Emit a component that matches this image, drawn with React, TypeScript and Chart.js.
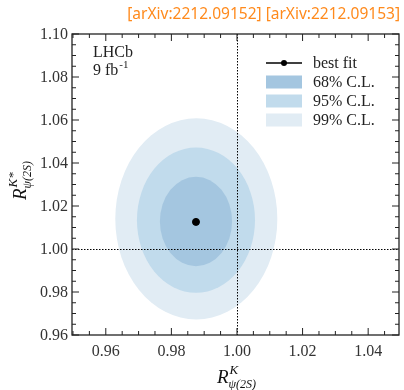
import React, { useEffect, useRef } from "react";
import { Chart, registerables } from "chart.js";
Chart.register(...registerables);

// ---- data ----
const bestFitX = [0.9875];
const bestFitY = [1.0126];
const clLabels = ["99% C.L.", "95% C.L.", "68% C.L."];
const clColors = ["#e1ecf4", "#c1dbec", "#a4c6e0"];
const clCenterX = [0.9876, 0.9875, 0.9875];
const clCenterY = [1.014, 1.0134, 1.0128];
const clHalfX = [0.0247, 0.018, 0.011];
const clHalfY = [0.0468, 0.0338, 0.0208];
const xTickValues = [0.96, 0.98, 1.0, 1.02, 1.04];
const yTickValues = [0.96, 0.98, 1.0, 1.02, 1.04, 1.06, 1.08, 1.1];
const refLineX = [1.0];
const refLineY = [1.0];
const titleText = "[arXiv:2212.09152] [arXiv:2212.09153]";
const xMin = 0.9497, xMax = 1.0494, yMin = 0.96, yMax = 1.1;
const minorStep = 0.005;

const SERIF = "'Liberation Serif', 'DejaVu Serif', serif";

function drawMath(
  ctx: CanvasRenderingContext2D,
  main: string,
  sup: string,
  sub: string,
  cx: number,
  baseY: number
) {
  ctx.save();
  ctx.fillStyle = "#111";
  ctx.textBaseline = "alphabetic";
  ctx.textAlign = "left";
  ctx.font = `italic 19px ${SERIF}`;
  const wR = ctx.measureText(main).width;
  ctx.font = `italic 13px ${SERIF}`;
  const wSup = ctx.measureText(sup).width;
  ctx.font = `italic 12px ${SERIF}`;
  const wSub = ctx.measureText(sub).width;
  const total = wR + Math.max(wSup, wSub) + 1;
  const x0 = cx - total / 2;
  ctx.font = `italic 19px ${SERIF}`;
  ctx.fillText(main, x0, baseY);
  ctx.font = `italic 13px ${SERIF}`;
  ctx.fillText(sup, x0 + wR + 1, baseY - 9);
  ctx.font = `italic 12px ${SERIF}`;
  ctx.fillText(sub, x0 + wR, baseY + 5);
  ctx.restore();
}

const customDraw = {
  id: "customDraw",
  beforeDatasetsDraw(chart: any) {
    const { ctx, chartArea, scales } = chart;
    const xs = scales.x, ys = scales.y;
    ctx.save();
    ctx.beginPath();
    ctx.rect(chartArea.left, chartArea.top, chartArea.right - chartArea.left, chartArea.bottom - chartArea.top);
    ctx.clip();
    // contours
    for (let i = 0; i < clLabels.length; i++) {
      const cx = xs.getPixelForValue(clCenterX[i]);
      const cy = ys.getPixelForValue(clCenterY[i]);
      const rx = Math.abs(xs.getPixelForValue(clCenterX[i] + clHalfX[i]) - cx);
      const ry = Math.abs(ys.getPixelForValue(clCenterY[i] + clHalfY[i]) - cy);
      ctx.beginPath();
      ctx.ellipse(cx, cy, rx, ry, 0, 0, Math.PI * 2);
      ctx.fillStyle = clColors[i];
      ctx.fill();
    }
    // reference lines
    ctx.strokeStyle = "#000";
    ctx.lineWidth = 1;
    ctx.setLineDash([1.5, 1.5]);
    for (const v of refLineX) {
      const px = Math.round(xs.getPixelForValue(v)) + 0.5;
      ctx.beginPath();
      ctx.moveTo(px, chartArea.top);
      ctx.lineTo(px, chartArea.bottom);
      ctx.stroke();
    }
    for (const v of refLineY) {
      const py = Math.round(ys.getPixelForValue(v)) + 0.5;
      ctx.beginPath();
      ctx.moveTo(chartArea.left, py);
      ctx.lineTo(chartArea.right, py);
      ctx.stroke();
    }
    ctx.restore();
  },
  afterDraw(chart: any) {
    const { ctx, chartArea, scales } = chart;
    const xs = scales.x, ys = scales.y;
    const { left, right, top, bottom } = chartArea;
    ctx.save();
    // frame
    ctx.strokeStyle = "#222";
    ctx.lineWidth = 1.3;
    ctx.setLineDash([]);
    ctx.strokeRect(left, top, right - left, bottom - top);
    // ticks
    ctx.lineWidth = 1;
    const kx0 = Math.ceil(xMin / minorStep - 1e-6);
    const kx1 = Math.floor(xMax / minorStep + 1e-6);
    for (let k = kx0; k <= kx1; k++) {
      const v = k * minorStep;
      const major = xTickValues.some((t) => Math.abs(t - v) < 1e-9);
      const len = major ? 7 : 4;
      const px = xs.getPixelForValue(v);
      ctx.beginPath();
      ctx.moveTo(px, bottom);
      ctx.lineTo(px, bottom - len);
      ctx.moveTo(px, top);
      ctx.lineTo(px, top + len);
      ctx.stroke();
    }
    const ky0 = Math.ceil(yMin / minorStep - 1e-6);
    const ky1 = Math.floor(yMax / minorStep + 1e-6);
    for (let k = ky0; k <= ky1; k++) {
      const v = k * minorStep;
      const major = yTickValues.some((t) => Math.abs(t - v) < 1e-9);
      const len = major ? 7 : 4;
      const py = ys.getPixelForValue(v);
      ctx.beginPath();
      ctx.moveTo(left, py);
      ctx.lineTo(left + len, py);
      ctx.moveTo(right, py);
      ctx.lineTo(right - len, py);
      ctx.stroke();
    }
    // tick labels
    ctx.fillStyle = "#333";
    ctx.font = `16px ${SERIF}`;
    ctx.textBaseline = "middle";
    ctx.textAlign = "right";
    for (const v of yTickValues) {
      ctx.fillText(v.toFixed(2), left - 4, ys.getPixelForValue(v) + 1);
    }
    ctx.textAlign = "center";
    for (const v of xTickValues) {
      ctx.fillText(v.toFixed(2), xs.getPixelForValue(v), bottom + 17);
    }
    // title
    ctx.font = "15.5px 'Noto Sans', sans-serif";
    ctx.fillStyle = "#ff8a1c";
    ctx.textAlign = "right";
    ctx.textBaseline = "middle";
    ctx.fillText(titleText, 400, 15);
    // LHCb label
    ctx.fillStyle = "#222";
    ctx.textAlign = "left";
    ctx.textBaseline = "alphabetic";
    ctx.font = `16px ${SERIF}`;
    ctx.fillText("LHCb", 93, 57);
    ctx.fillText("9 fb", 93, 75);
    const w9 = ctx.measureText("9 fb").width;
    ctx.font = `11px ${SERIF}`;
    ctx.fillText("-1", 93 + w9 + 1, 68);
    // legend
    const lx0 = 266, lx1 = 302, tx = 313;
    const rows = [63, 82, 101, 120];
    ctx.strokeStyle = "#000";
    ctx.lineWidth = 1.5;
    ctx.beginPath();
    ctx.moveTo(lx0, rows[0]);
    ctx.lineTo(lx1, rows[0]);
    ctx.stroke();
    ctx.beginPath();
    ctx.arc((lx0 + lx1) / 2, rows[0], 3, 0, Math.PI * 2);
    ctx.fillStyle = "#000";
    ctx.fill();
    ctx.font = `16px ${SERIF}`;
    ctx.textBaseline = "middle";
    ctx.fillStyle = "#222";
    ctx.fillText("best fit", tx, rows[0] + 1);
    for (let j = 0; j < 3; j++) {
      const i = clLabels.length - 1 - j; // 68, 95, 99
      const ry = rows[j + 1];
      ctx.fillStyle = clColors[i];
      ctx.fillRect(lx0, ry - 6.5, lx1 - lx0, 13);
      ctx.fillStyle = "#222";
      ctx.fillText(clLabels[i], tx, ry + 1);
    }
    ctx.restore();
    // axis titles
    drawMath(ctx, "R", "K", "ψ(2S)", xs.getPixelForValue(1.0), 383);
    ctx.save();
    ctx.translate(26, 180);
    ctx.rotate(-Math.PI / 2);
    drawMath(ctx, "R", "K*", "ψ(2S)", 0, 0);
    ctx.restore();
  },
};

export default function App() {
  const ref = useRef<HTMLCanvasElement | null>(null);
  useEffect(() => {
    if (!ref.current) return;
    const chart = new Chart(ref.current, {
      type: "scatter",
      data: {
        datasets: [
          {
            label: "best fit",
            data: bestFitX.map((x, i) => ({ x, y: bestFitY[i] })),
            backgroundColor: "#000",
            borderColor: "#000",
            pointRadius: 3.5,
          },
        ],
      },
      options: {
        responsive: false,
        animation: false,
        events: [],
        layout: { padding: { left: 72, right: 1, top: 34, bottom: 55 } },
        plugins: { legend: { display: false }, tooltip: { enabled: false }, title: { display: false } },
        scales: {
          x: { type: "linear", min: xMin, max: xMax, display: false },
          y: { type: "linear", min: yMin, max: yMax, display: false },
        },
      },
      plugins: [customDraw],
    });
    return () => chart.destroy();
  }, []);
  return (
    <div style={{ position: "fixed", left: 0, top: 0, width: 404, height: 390, background: "#fff" }}>
      <canvas ref={ref} width={404} height={390} style={{ width: 404, height: 390 }} />
    </div>
  );
}
